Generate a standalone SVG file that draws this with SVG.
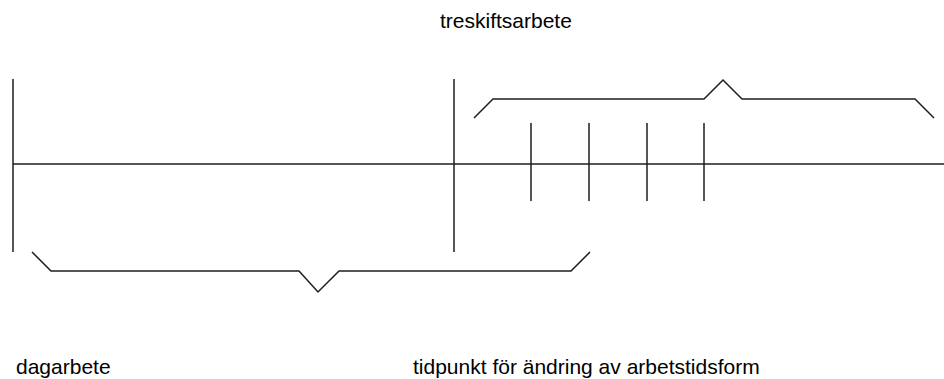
<svg xmlns="http://www.w3.org/2000/svg" width="944" height="379" viewBox="0 0 944 379">
  <style>
    .ln { fill: none; stroke: #1e1e1e; stroke-width: 1.5; stroke-linejoin: miter; }
    .lbl { font-family: "Liberation Sans", Arial, sans-serif; font-size: 21px; fill: #000; }
  </style>
  <rect width="944" height="379" fill="#fff"/>

  <!-- time axis, markers and braces -->
  <g id="connectors">
    <line class="ln" x1="13" y1="164" x2="944" y2="164"/>
    <line class="ln" x1="13" y1="79" x2="13" y2="252"/>
    <line class="ln" x1="454" y1="79" x2="454" y2="252"/>
    <line class="ln" x1="531" y1="123" x2="531" y2="201"/>
    <line class="ln" x1="589" y1="123" x2="589" y2="201"/>
    <line class="ln" x1="647" y1="123" x2="647" y2="201"/>
    <line class="ln" x1="704" y1="123" x2="704" y2="201"/>
    <!-- brace under the day-work period -->
    <polyline class="ln" points="32,252 51,271 299,271 318,292 339,271 571,271 590,252"/>
    <!-- brace over the three-shift period -->
    <polyline class="ln" points="474,118 493,99 704,99 723,80 742,99 915,99 934,118"/>
  </g>

  <g id="label-treskift">
    <text class="lbl" x="440" y="28">treskiftsarbete</text>
  </g>
  <g id="label-dagarbete">
    <text class="lbl" x="16" y="374">dagarbete</text>
  </g>
  <g id="label-tidpunkt">
    <text class="lbl" x="413" y="374">tidpunkt för ändring av arbetstidsform</text>
  </g>
</svg>
